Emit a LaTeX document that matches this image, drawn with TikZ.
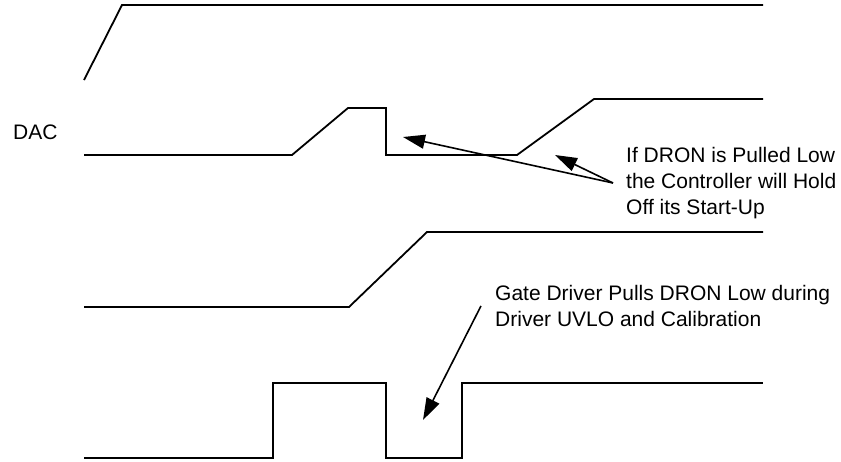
\documentclass[tikz,border=0pt]{standalone}
\usepackage{fontspec}
\setmainfont{Liberation Sans}
\usetikzlibrary{
    arrows.meta,
    positioning
}
\tikzstyle{trace} = [
    line width=1.8pt,
    line join=miter
]
\tikzstyle{callout} = [
    -{Triangle[length=22pt,width=14pt]},
    line width=1.6pt
]
\tikzstyle{note} = [
    inner sep=0pt,
    align=left,
    anchor=north west,
    font=\fontsize{21}{26}\selectfont
]

\begin{document}
\begin{tikzpicture}[x=1pt, y=-1pt]
    \useasboundingbox (0,0) rectangle (841,461);

    % Traces
    \draw[trace] (84,80) -- (122,5) -- (763,5);
    \draw[trace] (84,155) -- (292,155) -- (348,108) -- (386,108) -- (386,155)
        -- (517,155) -- (594,99) -- (763,99);
    \draw[trace] (84,307) -- (349,307) -- (427,232) -- (763,232);
    \draw[trace] (84,458) -- (273,458) -- (273,383) -- (386,383) -- (386,458)
        -- (462,458) -- (462,383) -- (763,383);

    % Labels
    \node[note] (dac) at (13,125) {DAC};
    \node[note] (hold) at (626,147)
        {If DRON is Pulled Low\\the Controller will Hold\\Off its Start-Up};
    \node[note] (uvlo) at (495,285)
        {Gate Driver Pulls DRON Low during\\Driver UVLO and Calibration};

    % Arrows
    \coordinate[left=13pt of hold.west] (holdtail);
    \coordinate[left=14pt of uvlo.west] (uvlotail);
    \coordinate (dip) at (403,137);
    \coordinate (ramp) at (555,155);
    \coordinate (low) at (423,420);
    \draw[callout] (holdtail) -- (dip);
    \draw[callout] (holdtail) -- (ramp);
    \draw[callout] (uvlotail) -- (low);
\end{tikzpicture}
\end{document}
